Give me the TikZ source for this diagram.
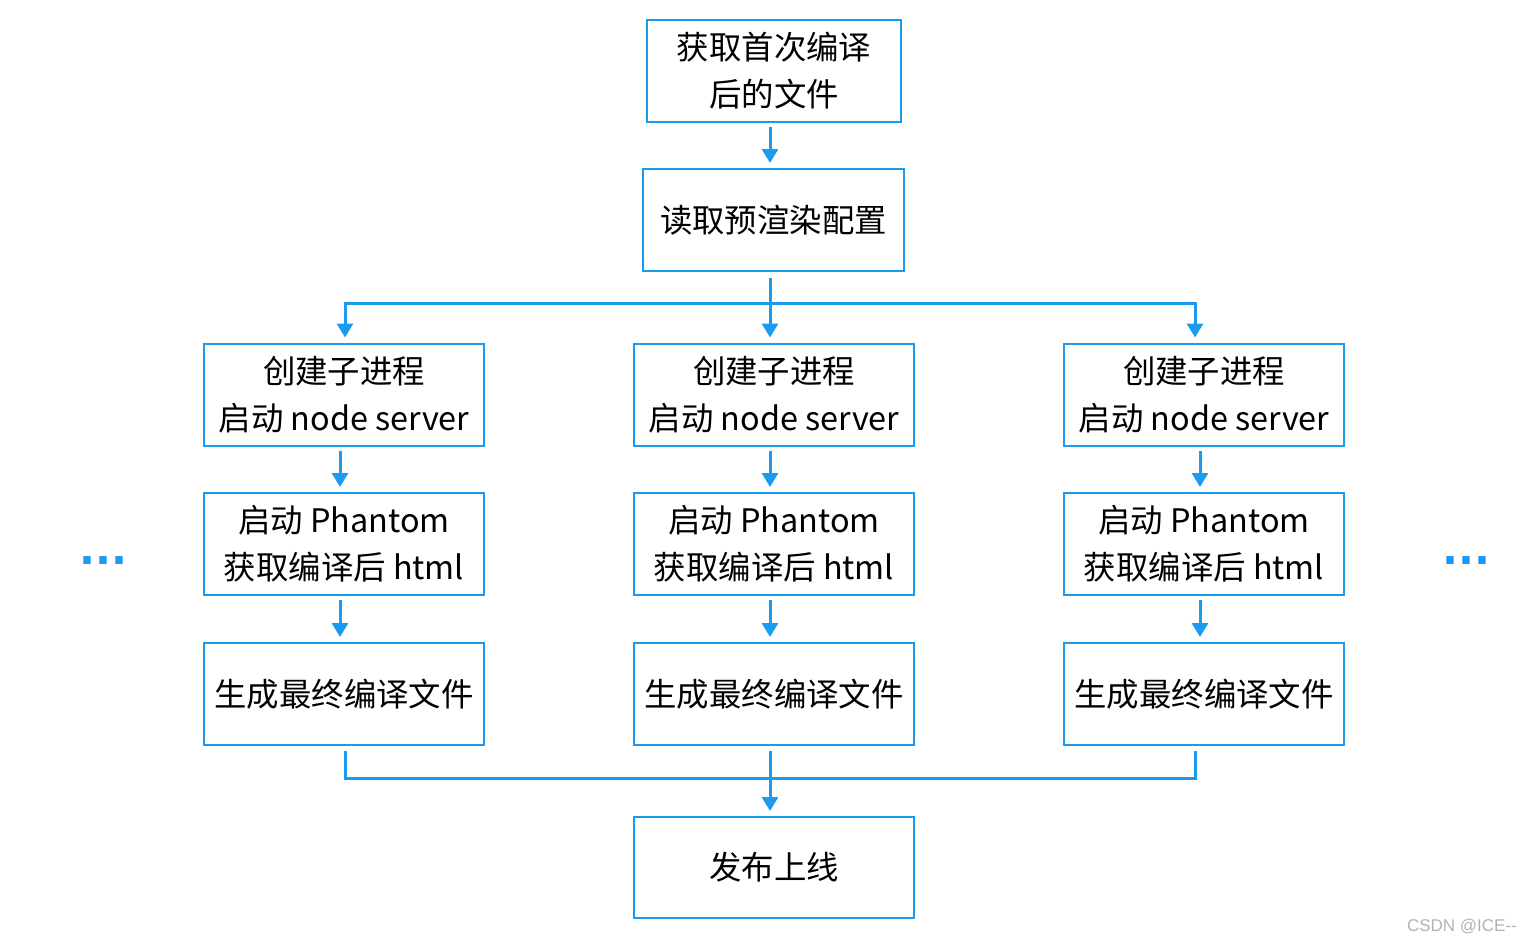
\documentclass[tikz,border=0pt]{standalone}
\usepackage{fontspec}
\setmainfont{Noto Sans CJK SC}
\newfontfamily\dotfont{DejaVu Sans}
\newfontfamily\markfont{Liberation Sans}
\usetikzlibrary{arrows.meta}
\definecolor{flowblue}{RGB}{27,155,240}

\begin{document}
\begin{tikzpicture}[x=0.5pt, y=-0.5pt,
    box/.style = {draw=flowblue, line width=1pt, minimum width=140pt, minimum height=51pt,
                  inner sep=0pt, align=center, font=\fontsize{16.2}{23.5}\selectfont},
    link/.style = {draw=flowblue, line width=1.5pt},
    flow/.style = {link, -{Triangle[length=7pt,width=8pt]}, shorten >=2.5pt}]
    \useasboundingbox (0,0) rectangle (1532,944);

    \node[box, minimum width=127pt] (F0) at (774, 70.5) {获取首次编译\\后的文件};
    \node[box, minimum width=130.5pt] (R0) at (773.5, 220) {读取预渲染配置};

    \foreach \x/\i in {344/1, 774/2, 1204/3} {
        \node[box] (N\i) at (\x, 394.5) {创建子进程\\启动 node server};
        \node[box] (H\i) at (\x, 544) {启动 Phantom\\获取编译后 html};
        \node[box] (G\i) at (\x, 694) {生成最终编译文件};
        \draw[flow, shorten <=2pt] ([xshift=-2pt]N\i.south) -- ([xshift=-2pt]H\i.north);
        \draw[flow, shorten <=2pt] ([xshift=-2pt]H\i.south) -- ([xshift=-2pt]G\i.north);
    }

    \node[box, minimum height=50.5pt] (P0) at (774, 867.5) {发布上线};

    \draw[flow, shorten <=2pt] ([xshift=-2pt]F0.south) -- ([xshift=-1.75pt]R0.north);

    % branch out
    \coordinate (B0) at (770, 303);
    \draw[flow, shorten <=3pt] ([xshift=-1.75pt]R0.south) -- ([xshift=-2pt]N2.north);
    \draw[flow] (B0) -| ([xshift=0.5pt]N1.north);
    \draw[flow] (B0) -| ([xshift=-4.5pt]N3.north);

    % merge back
    \draw[link] ([xshift=0.5pt, yshift=-2.5pt]G1.south) -- ++(0,-13.5pt)
        -| ([xshift=-4.5pt, yshift=-2.5pt]G3.south);
    \draw[flow, shorten <=2.5pt] ([xshift=-2pt]G2.south) -- ([xshift=-2pt]P0.north);

    \node[anchor=base, text=flowblue, font=\dotfont\bfseries\fontsize{21}{21}\selectfont] (L0) at (103.5, 564) {...};
    \node[anchor=base, text=flowblue, font=\dotfont\bfseries\fontsize{21}{21}\selectfont] (L1) at (1466.5, 564) {...};

    \node[text=black!30, font=\markfont\fontsize{8.5}{8.5}\selectfont] (W0) at (1462, 927) {CSDN @ICE--};
\end{tikzpicture}
\end{document}
